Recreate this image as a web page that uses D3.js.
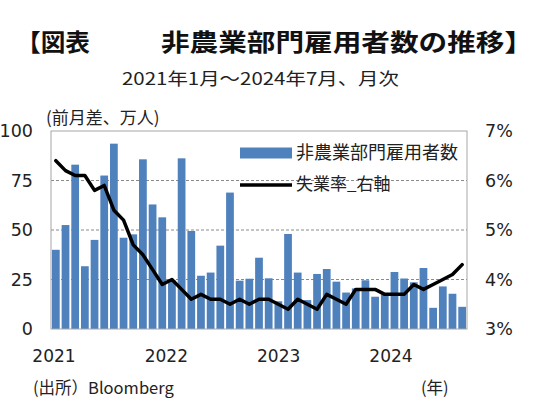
<!DOCTYPE html>
<html><head><meta charset="utf-8">
<script src="https://cdn.jsdelivr.net/npm/d3@7"></script>
<style>body{margin:0;background:#fff}svg{display:block}</style>
</head><body>
<svg id="c" width="540" height="409"></svg>
<script>
// ---- data ----
const months = [
  "2021/1","2021/2","2021/3","2021/4","2021/5","2021/6","2021/7","2021/8","2021/9","2021/10","2021/11","2021/12",
  "2022/1","2022/2","2022/3","2022/4","2022/5","2022/6","2022/7","2022/8","2022/9","2022/10","2022/11","2022/12",
  "2023/1","2023/2","2023/3","2023/4","2023/5","2023/6","2023/7","2023/8","2023/9","2023/10","2023/11","2023/12",
  "2024/1","2024/2","2024/3","2024/4","2024/5","2024/6","2024/7"
];
// 非農業部門雇用者数（前月差、万人）
const payrolls = [
  40, 52.5, 83, 31.7, 45, 77.5, 93.6, 46.1, 47.8, 85.7, 62.9, 56.4,
  24.5, 86.2, 49.5, 26.9, 28.5, 42.1, 68.9, 24.4, 25.4, 36.0, 25.6, 14,
  48.0, 28.5, 14.6, 27.8, 30.3, 23.9, 18.4, 20.5, 24.6, 16.3, 17.5, 28.8,
  25.5, 23.6, 30.8, 10.7, 21.5, 17.8, 11.2
];
// 失業率（%、右軸）
const unemployment = [
  6.4, 6.2, 6.1, 6.1, 5.8, 5.9, 5.4, 5.2, 4.7, 4.5, 4.2, 3.9,
  4.0, 3.8, 3.6, 3.7, 3.6, 3.6, 3.5, 3.6, 3.5, 3.6, 3.6, 3.5,
  3.4, 3.6, 3.5, 3.4, 3.7, 3.6, 3.5, 3.8, 3.8, 3.8, 3.7, 3.7,
  3.7, 3.9, 3.8, 3.9, 4.0, 4.1, 4.3
];
const leftTicks = [0, 25, 50, 75, 100];
const rightTicks = [3, 4, 5, 6, 7];
const gridTicks = [25, 50, 75];
const yearLabels = ["2021", "2022", "2023", "2024"];
const yearLabelIndex = [0, 12, 24, 36];

const titleLeft = "【図表";
const titleRight = "非農業部門雇用者数の推移】";
const subtitle = "2021年1月～2024年7月、月次";
const unitLabel = "(前月差、万人)";
const sourceLabel = "(出所）Bloomberg";
const yearUnit = "(年)";
const legendBar = "非農業部門雇用者数";
const legendLine = "失業率_右軸";

// ---- layout ----
const P = {left: 51, right: 467, top: 131, bottom: 329};
const CJK = "'Noto Sans CJK JP', 'Noto Sans', sans-serif";
const NUM = "'DejaVu Sans', sans-serif";
const TXT = "#222";

const svg = d3.select("#c");

const x = d3.scaleBand().domain(months).range([P.left, P.right]).paddingInner(0.2).paddingOuter(0.1);
const yL = d3.scaleLinear().domain([0, 100]).range([P.bottom, P.top]);
const yR = d3.scaleLinear().domain([3, 7]).range([P.bottom, P.top]);
const xYear = d3.scaleLinear().domain([0, 36]).range([P.left + 3, P.left + 340]);

// grid
svg.append("g").selectAll("line").data(gridTicks).join("line")
  .attr("x1", P.left).attr("x2", P.right)
  .attr("y1", d => yL(d)).attr("y2", d => yL(d))
  .attr("stroke", "#8a8a8a").attr("stroke-width", 1).attr("stroke-dasharray", "3,2");

// bars
svg.append("g").selectAll("rect").data(payrolls).join("rect")
  .attr("x", (d, i) => x(months[i]))
  .attr("width", x.bandwidth())
  .attr("y", d => yL(d))
  .attr("height", d => yL(0) - yL(d))
  .attr("fill", "#4F81BD");

// border
svg.append("rect").attr("x", P.left).attr("y", P.top)
  .attr("width", P.right - P.left).attr("height", P.bottom - P.top)
  .attr("fill", "none").attr("stroke", "#a6a6a6").attr("stroke-width", 1);

// line
const line = d3.line().x((d, i) => x(months[i]) + x.bandwidth() / 2).y(d => yR(d));
svg.append("path").datum(unemployment).attr("d", line)
  .attr("fill", "none").attr("stroke", "#000").attr("stroke-width", 3.5)
  .attr("stroke-linejoin", "round").attr("stroke-linecap", "round");

// axes
const axL = svg.append("g").attr("transform", `translate(${P.left},0)`)
  .call(d3.axisLeft(yL).tickValues(leftTicks).tickSize(0).tickPadding(18));
const axR = svg.append("g").attr("transform", `translate(${P.right},0)`)
  .call(d3.axisRight(yR).tickValues(rightTicks).tickSize(0).tickPadding(18).tickFormat(d => d + "%"));
[axL, axR].forEach(a => {
  a.select(".domain").remove();
  a.selectAll("text").attr("font-family", NUM).attr("font-size", 17.5).attr("fill", TXT);
});

// year labels
svg.append("g").selectAll("text").data(yearLabels).join("text")
  .attr("x", (d, i) => xYear(yearLabelIndex[i]))
  .attr("y", 362).attr("text-anchor", "middle")
  .attr("font-family", NUM).attr("font-size", 17).attr("fill", TXT).text(d => d);

// titles
svg.append("text").attr("x", 16).attr("y", 51).attr("font-family", CJK).attr("font-weight", 700)
  .attr("font-size", 24).attr("fill", "#111")
  .attr("textLength", 74).attr("lengthAdjust", "spacingAndGlyphs").text(titleLeft);
svg.append("text").attr("x", 161).attr("y", 51).attr("font-family", CJK).attr("font-weight", 700)
  .attr("font-size", 24).attr("fill", "#111")
  .attr("textLength", 372).attr("lengthAdjust", "spacingAndGlyphs").text(titleRight);
svg.append("text").attr("x", 122).attr("y", 85).attr("font-family", CJK)
  .attr("font-size", 17.5).attr("fill", TXT)
  .attr("textLength", 277).attr("lengthAdjust", "spacingAndGlyphs").text(subtitle);

// unit / source
svg.append("text").attr("x", 46).attr("y", 124).attr("font-family", CJK).attr("font-size", 17)
  .attr("fill", TXT).text(unitLabel);
svg.append("text").attr("x", 33).attr("y", 394).attr("font-family", CJK).attr("font-size", 16.5)
  .attr("fill", TXT).text(sourceLabel);
svg.append("text").attr("x", 421).attr("y", 394).attr("font-family", CJK).attr("font-size", 16.5)
  .attr("fill", TXT).text(yearUnit);

// legend
const lg = svg.append("g");
lg.append("rect").attr("x", 240).attr("y", 147.5).attr("width", 52).attr("height", 11).attr("fill", "#4F81BD");
lg.append("line").attr("x1", 240).attr("x2", 292).attr("y1", 185).attr("y2", 185)
  .attr("stroke", "#000").attr("stroke-width", 3.5);
lg.append("text").attr("x", 296).attr("y", 159).attr("font-family", CJK).attr("font-size", 18)
  .attr("fill", TXT).text(legendBar);
lg.append("text").attr("x", 296).attr("y", 190).attr("font-family", CJK).attr("font-size", 17)
  .attr("fill", TXT).text(legendLine);
</script>
</body></html>
